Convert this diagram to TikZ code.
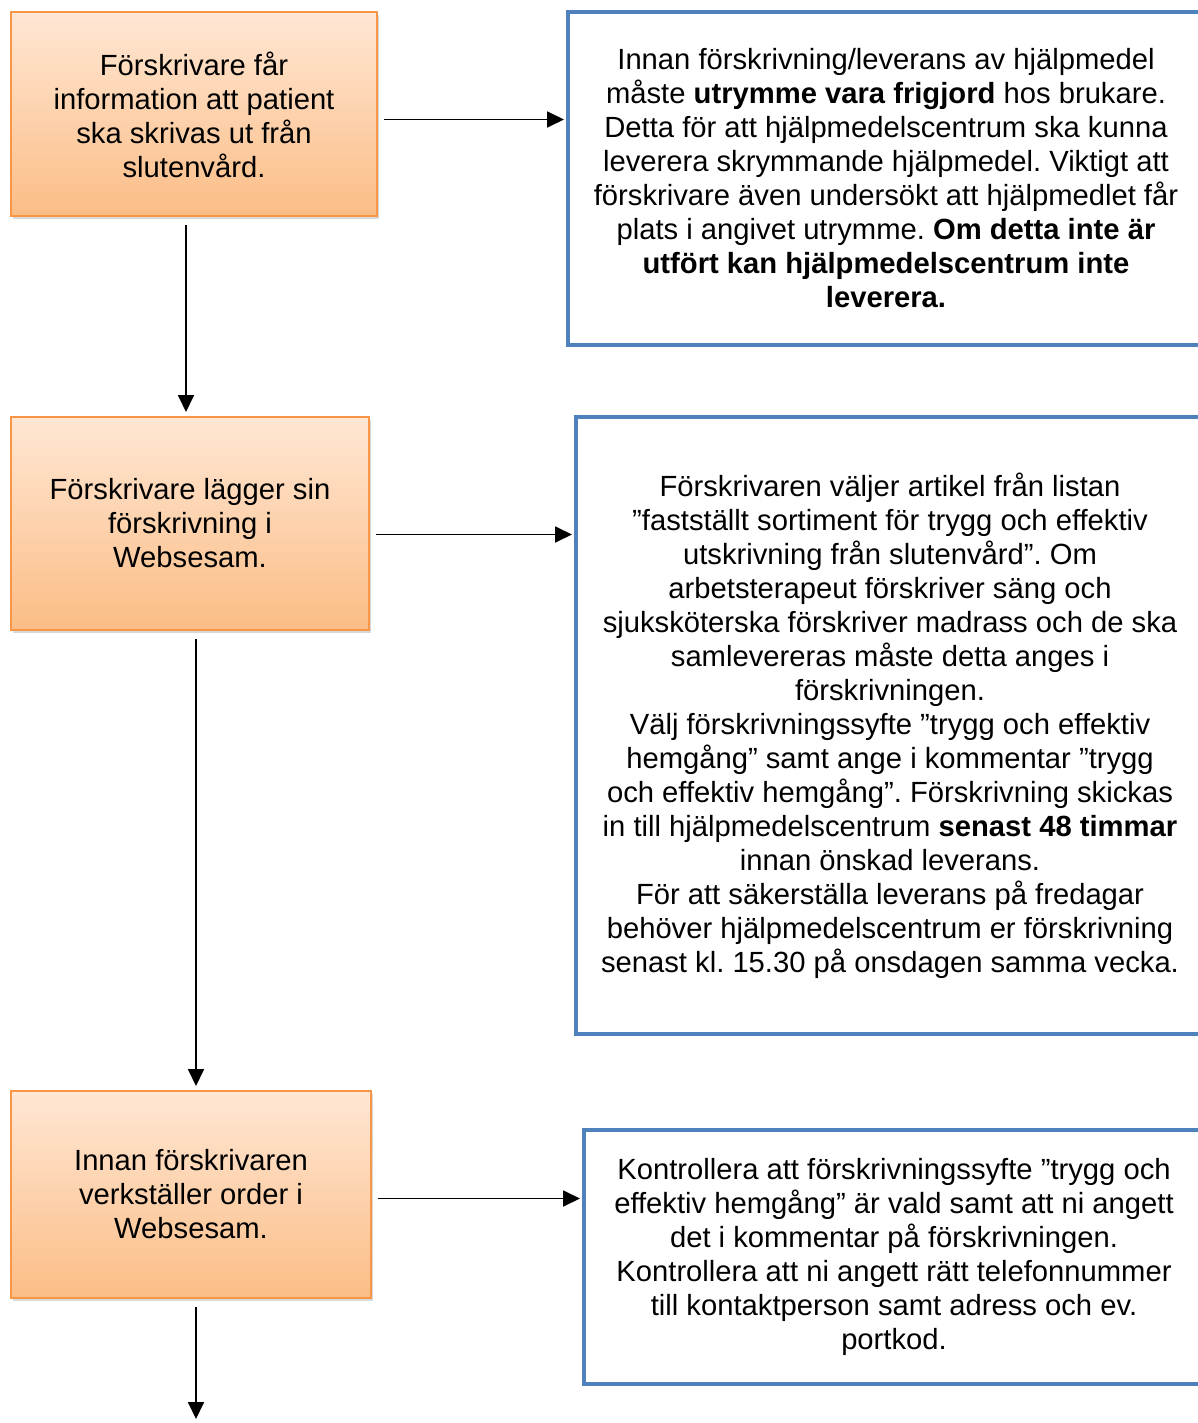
\documentclass[tikz,border=0pt]{standalone}
\usepackage{fontspec}
\setmainfont{Liberation Sans}
\usepackage{tikz}
\usetikzlibrary{arrows.meta,shadows}
\definecolor{ordkant}{HTML}{F79646}
\definecolor{ordtopp}{HTML}{FFE7D4}
\definecolor{ordbotten}{HTML}{FBBD86}
\definecolor{infokant}{HTML}{4F81BD}
\frenchspacing

\begin{document}
\begin{tikzpicture}[x=0.5pt,y=-0.5pt,
    every node/.style={font=\fontsize{14.6}{17}\selectfont,align=center,inner sep=0pt},
    ordbox/.style={draw=ordkant,line width=1pt,top color=ordtopp,bottom color=ordbotten,
      drop shadow={opacity=0.3,shadow xshift=1pt,shadow yshift=-1.5pt}},
    infobox/.style={draw=infokant,line width=2pt},
    pil/.style={-{Triangle[length=8.5pt,width=8pt]},line width=0.9pt}]
  \useasboundingbox (0,0) rectangle (1198,1423);

  \node[ordbox,minimum width=183pt,minimum height=102pt] (steg1) at (194,114.5)
    {Förskrivare får\\information att patient\\ska skrivas ut från\\slutenvård.};
  \node[ordbox,minimum width=179pt,minimum height=106.5pt] (steg2) at (190,523.5)
    {Förskrivare lägger sin\\förskrivning i\\Websesam.};
  \node[ordbox,minimum width=180pt,minimum height=103.5pt] (steg3) at (191,1194.5)
    {Innan förskrivaren\\verkställer order i\\Websesam.};

  \node[infobox,minimum width=318pt,minimum height=166.5pt] (info1) at (886,178.5)
    {Innan förskrivning/leverans av hjälpmedel\\
     måste \textbf{utrymme vara frigjord} hos brukare.\\
     Detta för att hjälpmedelscentrum ska kunna\\
     leverera skrymmande hjälpmedel. Viktigt att\\
     förskrivare även undersökt att hjälpmedlet får\\
     plats i angivet utrymme. \textbf{Om detta inte är}\\
     \textbf{utfört kan hjälpmedelscentrum inte}\\
     \textbf{leverera.}};
  \node[infobox,minimum width=314pt,minimum height=308.5pt] (info2) at (890,725.5)
    {Förskrivaren väljer artikel från listan\\
     ”fastställt sortiment för trygg och effektiv\\
     utskrivning från slutenvård”. Om\\
     arbetsterapeut förskriver säng och\\
     sjuksköterska förskriver madrass och de ska\\
     samlevereras måste detta anges i\\
     förskrivningen.\\
     Välj förskrivningssyfte ”trygg och effektiv\\
     hemgång” samt ange i kommentar ”trygg\\
     och effektiv hemgång”. Förskrivning skickas\\
     in till hjälpmedelscentrum \textbf{senast 48 timmar}\\
     innan önskad leverans.\\
     För att säkerställa leverans på fredagar\\
     behöver hjälpmedelscentrum er förskrivning\\
     senast kl. 15.30 på onsdagen samma vecka.};
  \node[infobox,minimum width=310pt,minimum height=127pt] (info3) at (894,1257)
    {Kontrollera att förskrivningssyfte ”trygg och\\
     effektiv hemgång” är vald samt att ni angett\\
     det i kommentar på förskrivningen.\\
     Kontrollera att ni angett rätt telefonnummer\\
     till kontaktperson samt adress och ev.\\
     portkod.};
  \coordinate (slut) at (196,1423);

  \path[pil,shorten <=3pt,shorten >=1pt]
    ([yshift=-2.5pt]steg1.east) edge ([yshift=-2.5pt]steg1.east -| info1.west)
    ([yshift=-5.5pt]steg2.east) edge ([yshift=-5.5pt]steg2.east -| info2.west)
    ([yshift=-2pt]steg3.east) edge ([yshift=-2pt]steg3.east -| info3.west);
  \path[pil,shorten <=4pt,shorten >=2pt]
    ([xshift=-4pt]steg1.south) edge ([xshift=-4pt]steg1.south |- steg2.north)
    ([xshift=3pt]steg2.south) edge ([xshift=3pt]steg2.south |- steg3.north)
    ([xshift=2.5pt]steg3.south) edge (slut);
\end{tikzpicture}
\end{document}
